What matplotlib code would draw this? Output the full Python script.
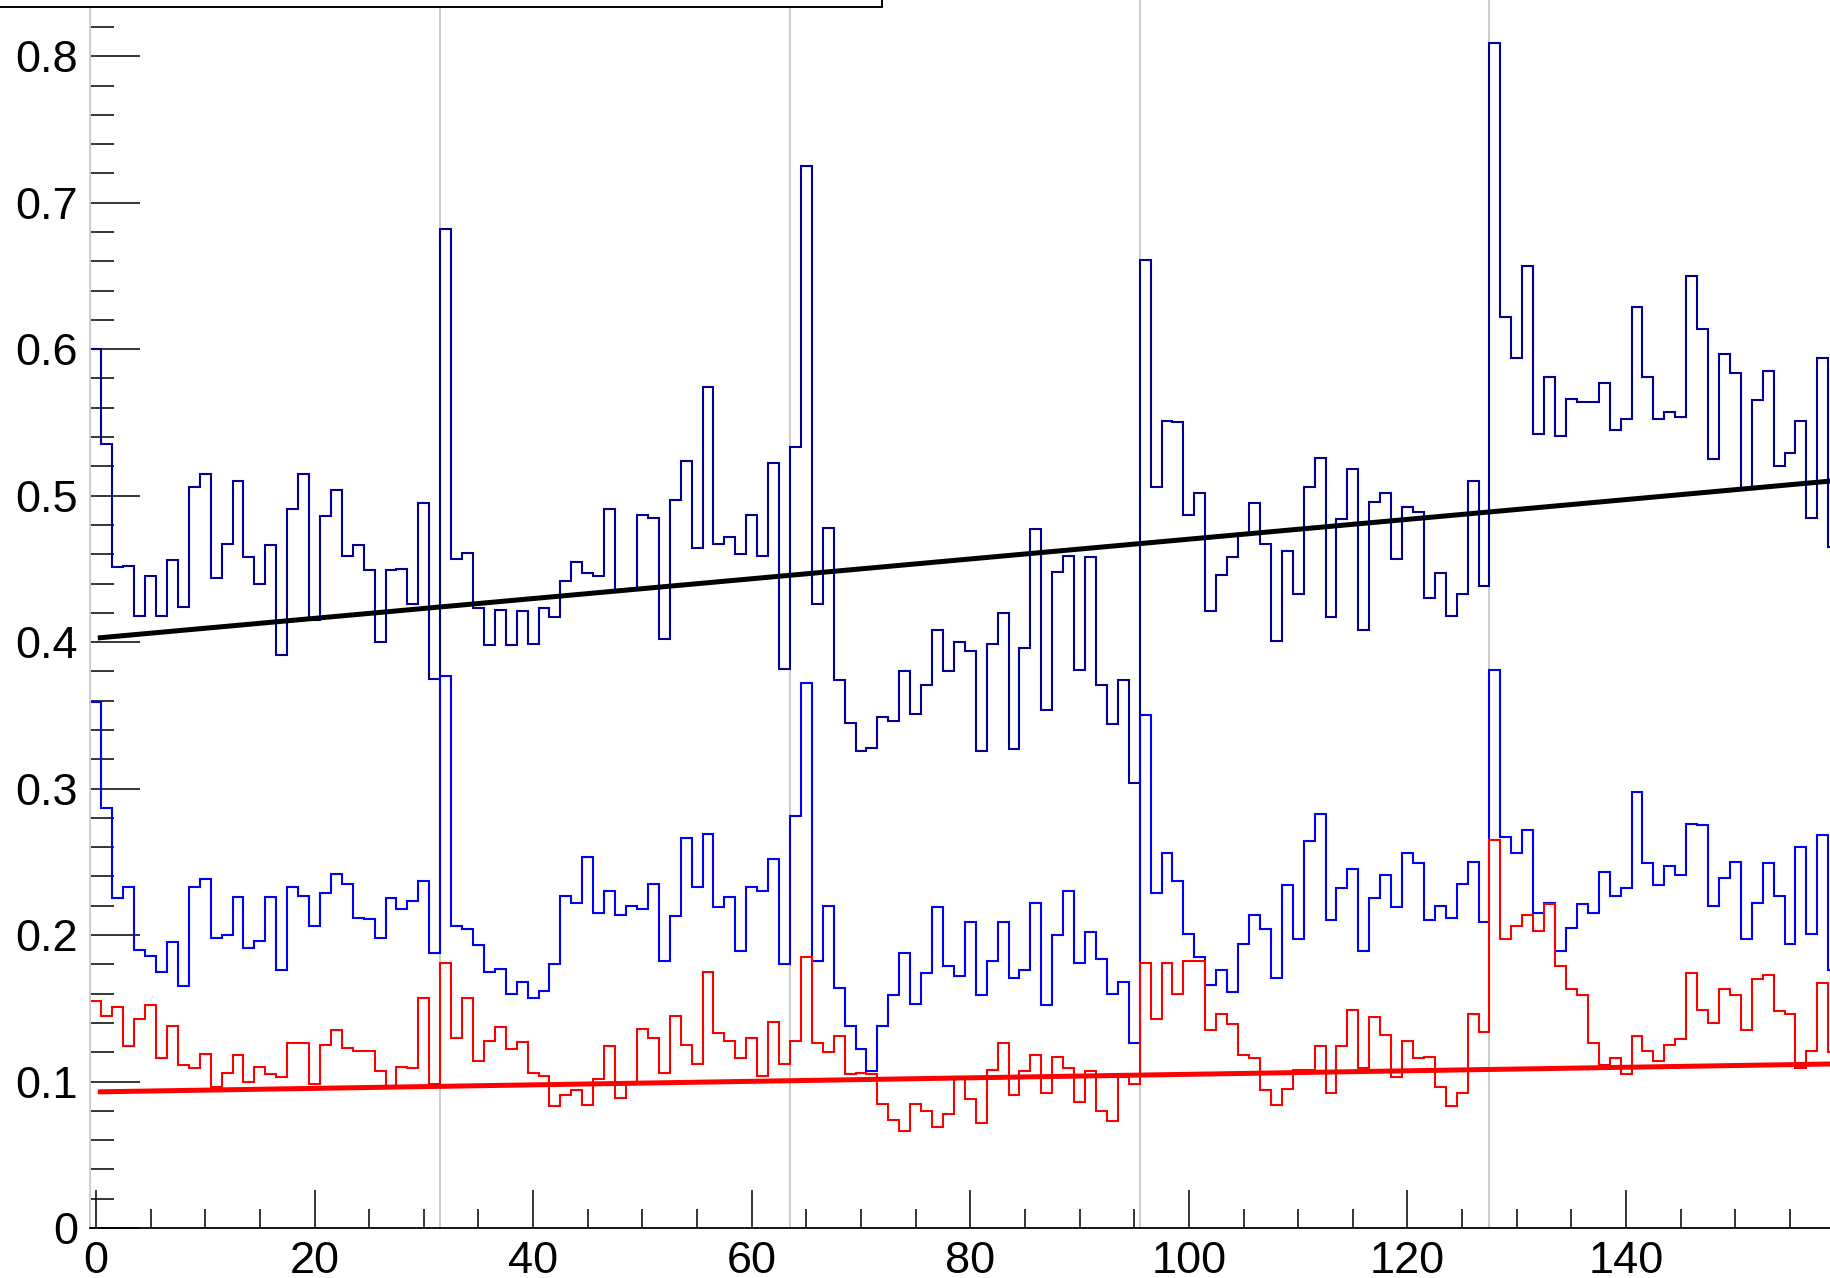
import numpy as np
import matplotlib
matplotlib.use("Agg")
import matplotlib.pyplot as plt
from matplotlib.patches import Rectangle
from matplotlib.ticker import MultipleLocator, FuncFormatter

plt.rcParams['font.family'] = ['Liberation Sans', 'DejaVu Sans']

# bin contents, bins centred on 0, 1, 2, ... 159 (width 1)
upper = [0.600, 0.535, 0.451, 0.452, 0.418, 0.445, 0.418, 0.456, 0.424, 0.506,
         0.515, 0.444, 0.467, 0.510, 0.458, 0.440, 0.466, 0.391, 0.491, 0.515,
         0.415, 0.486, 0.504, 0.459, 0.466, 0.449, 0.400, 0.449, 0.450, 0.426,
         0.495, 0.375, 0.682, 0.457, 0.461, 0.423, 0.398, 0.422, 0.398, 0.421,
         0.399, 0.423, 0.417, 0.442, 0.455, 0.447, 0.445, 0.491, 0.435, 0.436,
         0.487, 0.485, 0.402, 0.497, 0.524, 0.464, 0.574, 0.467, 0.472, 0.460,
         0.487, 0.459, 0.522, 0.382, 0.533, 0.725, 0.426, 0.478, 0.374, 0.345,
         0.326, 0.328, 0.349, 0.346, 0.380, 0.351, 0.371, 0.408, 0.380, 0.400,
         0.394, 0.326, 0.399, 0.420, 0.327, 0.396, 0.477, 0.354, 0.448, 0.459,
         0.381, 0.458, 0.371, 0.344, 0.374, 0.304, 0.661, 0.506, 0.551, 0.550,
         0.487, 0.502, 0.421, 0.446, 0.458, 0.474, 0.495, 0.467, 0.401, 0.462,
         0.433, 0.506, 0.526, 0.417, 0.484, 0.518, 0.408, 0.496, 0.502, 0.457,
         0.492, 0.489, 0.430, 0.447, 0.418, 0.433, 0.510, 0.438, 0.809, 0.622,
         0.594, 0.657, 0.542, 0.581, 0.541, 0.566, 0.564, 0.564, 0.577, 0.545,
         0.552, 0.629, 0.581, 0.552, 0.557, 0.554, 0.650, 0.614, 0.525, 0.597,
         0.584, 0.505, 0.565, 0.585, 0.520, 0.529, 0.551, 0.485, 0.594, 0.465]

lower = [0.359, 0.287, 0.225, 0.233, 0.190, 0.186, 0.175, 0.195, 0.165, 0.233,
         0.238, 0.198, 0.200, 0.226, 0.191, 0.196, 0.226, 0.176, 0.233, 0.227,
         0.206, 0.229, 0.242, 0.235, 0.212, 0.211, 0.198, 0.225, 0.218, 0.223,
         0.237, 0.188, 0.377, 0.206, 0.204, 0.193, 0.175, 0.177, 0.160, 0.168,
         0.157, 0.162, 0.180, 0.227, 0.222, 0.253, 0.215, 0.230, 0.214, 0.220,
         0.218, 0.235, 0.182, 0.213, 0.266, 0.233, 0.269, 0.219, 0.226, 0.189,
         0.233, 0.230, 0.252, 0.180, 0.281, 0.372, 0.182, 0.220, 0.164, 0.138,
         0.122, 0.107, 0.138, 0.159, 0.188, 0.153, 0.174, 0.219, 0.179, 0.172,
         0.209, 0.159, 0.182, 0.209, 0.171, 0.176, 0.222, 0.152, 0.200, 0.230,
         0.181, 0.202, 0.184, 0.160, 0.168, 0.126, 0.350, 0.229, 0.256, 0.237,
         0.201, 0.185, 0.166, 0.176, 0.161, 0.194, 0.214, 0.204, 0.171, 0.234,
         0.197, 0.264, 0.283, 0.210, 0.232, 0.245, 0.189, 0.225, 0.241, 0.219,
         0.256, 0.249, 0.210, 0.220, 0.212, 0.235, 0.250, 0.209, 0.381, 0.267,
         0.256, 0.272, 0.215, 0.222, 0.189, 0.205, 0.221, 0.215, 0.243, 0.227,
         0.232, 0.298, 0.249, 0.234, 0.247, 0.241, 0.276, 0.275, 0.220, 0.239,
         0.250, 0.197, 0.222, 0.249, 0.227, 0.194, 0.260, 0.201, 0.268, 0.176]

red = [0.155, 0.145, 0.151, 0.124, 0.143, 0.152, 0.116, 0.138, 0.111, 0.109,
       0.119, 0.096, 0.106, 0.118, 0.100, 0.110, 0.105, 0.103, 0.126, 0.126,
       0.098, 0.125, 0.135, 0.123, 0.121, 0.121, 0.107, 0.097, 0.110, 0.109,
       0.157, 0.098, 0.181, 0.130, 0.157, 0.114, 0.128, 0.137, 0.122, 0.127,
       0.106, 0.104, 0.083, 0.091, 0.094, 0.084, 0.102, 0.124, 0.089, 0.100,
       0.136, 0.130, 0.106, 0.145, 0.125, 0.112, 0.175, 0.133, 0.128, 0.116,
       0.130, 0.104, 0.141, 0.112, 0.128, 0.185, 0.126, 0.120, 0.131, 0.105,
       0.106, 0.105, 0.085, 0.074, 0.066, 0.085, 0.080, 0.069, 0.078, 0.103,
       0.088, 0.072, 0.108, 0.126, 0.091, 0.107, 0.118, 0.092, 0.117, 0.109,
       0.086, 0.107, 0.080, 0.073, 0.103, 0.098, 0.181, 0.143, 0.181, 0.160,
       0.182, 0.182, 0.135, 0.146, 0.139, 0.118, 0.116, 0.094, 0.084, 0.095,
       0.108, 0.108, 0.124, 0.092, 0.124, 0.149, 0.109, 0.144, 0.132, 0.103,
       0.128, 0.116, 0.117, 0.096, 0.083, 0.092, 0.146, 0.134, 0.265, 0.197,
       0.206, 0.214, 0.203, 0.221, 0.179, 0.163, 0.159, 0.126, 0.111, 0.116,
       0.105, 0.131, 0.121, 0.114, 0.125, 0.129, 0.174, 0.149, 0.140, 0.163,
       0.159, 0.135, 0.170, 0.173, 0.148, 0.146, 0.109, 0.121, 0.167, 0.120]

# straight-line fits, given by their two end points
fit_x = [0.4, 158.75]
fit_black = [0.403, 0.510]
fit_red = [0.093, 0.112]

# group separators
separators = [-0.5, 31.5, 63.5, 95.5, 127.5]

edges = np.arange(len(upper) + 1) - 0.5

fig = plt.figure(figsize=(18.31, 12.78), dpi=100)
ax = fig.add_axes([0.0494, 0.0391, 0.9506, 0.9609])

for s in separators:
    ax.axvline(s, color='#cccccc', lw=1.4, zorder=1)

ax.stairs(upper, edges, baseline=None, color='#000099', lw=1.5, zorder=2)
ax.stairs(lower, edges, baseline=None, color='#0000ff', lw=1.5, zorder=2)
ax.stairs(red, edges, baseline=None, color='#ff0000', lw=1.5, zorder=2)

ax.plot(fit_x, fit_black, color='black', lw=3.6, zorder=3)
ax.plot(fit_x, fit_red, color='#ff0000', lw=3.6, zorder=3)

ax.set_xlim(-0.5, 158.75)
ax.set_ylim(0, 0.8384)

ax.xaxis.set_major_locator(MultipleLocator(20))
ax.xaxis.set_minor_locator(MultipleLocator(5))
ax.yaxis.set_major_locator(MultipleLocator(0.1))
ax.yaxis.set_minor_locator(MultipleLocator(0.02))
ax.yaxis.set_major_formatter(FuncFormatter(lambda v, p: '0' if abs(v) < 1e-9 else f'{v:.1f}'))
ax.xaxis.set_major_formatter(FuncFormatter(lambda v, p: f'{v:.0f}'))

ax.tick_params(axis='both', which='both', direction='in', width=1.1,
               labelsize=32.5, pad=9, right=False, top=False)
ax.tick_params(axis='y', which='major', length=36)
ax.tick_params(axis='y', which='minor', length=17.5)
ax.tick_params(axis='x', which='major', length=27.5)
ax.tick_params(axis='x', which='minor', length=14)

ax.spines['top'].set_visible(False)
ax.spines['right'].set_visible(False)
ax.spines['left'].set_color('#cccccc')
ax.spines['left'].set_linewidth(1.4)
ax.spines['bottom'].set_linewidth(1.3)

# legend box (only its lower edge is inside the picture)
fig.patches.append(Rectangle((-0.01, 1 - 7 / 1278), 0.01 + 882 / 1831, 0.05,
                             transform=fig.transFigure, facecolor='white',
                             edgecolor='black', lw=1.4, clip_on=False))

fig.savefig('out.png', dpi=100)
